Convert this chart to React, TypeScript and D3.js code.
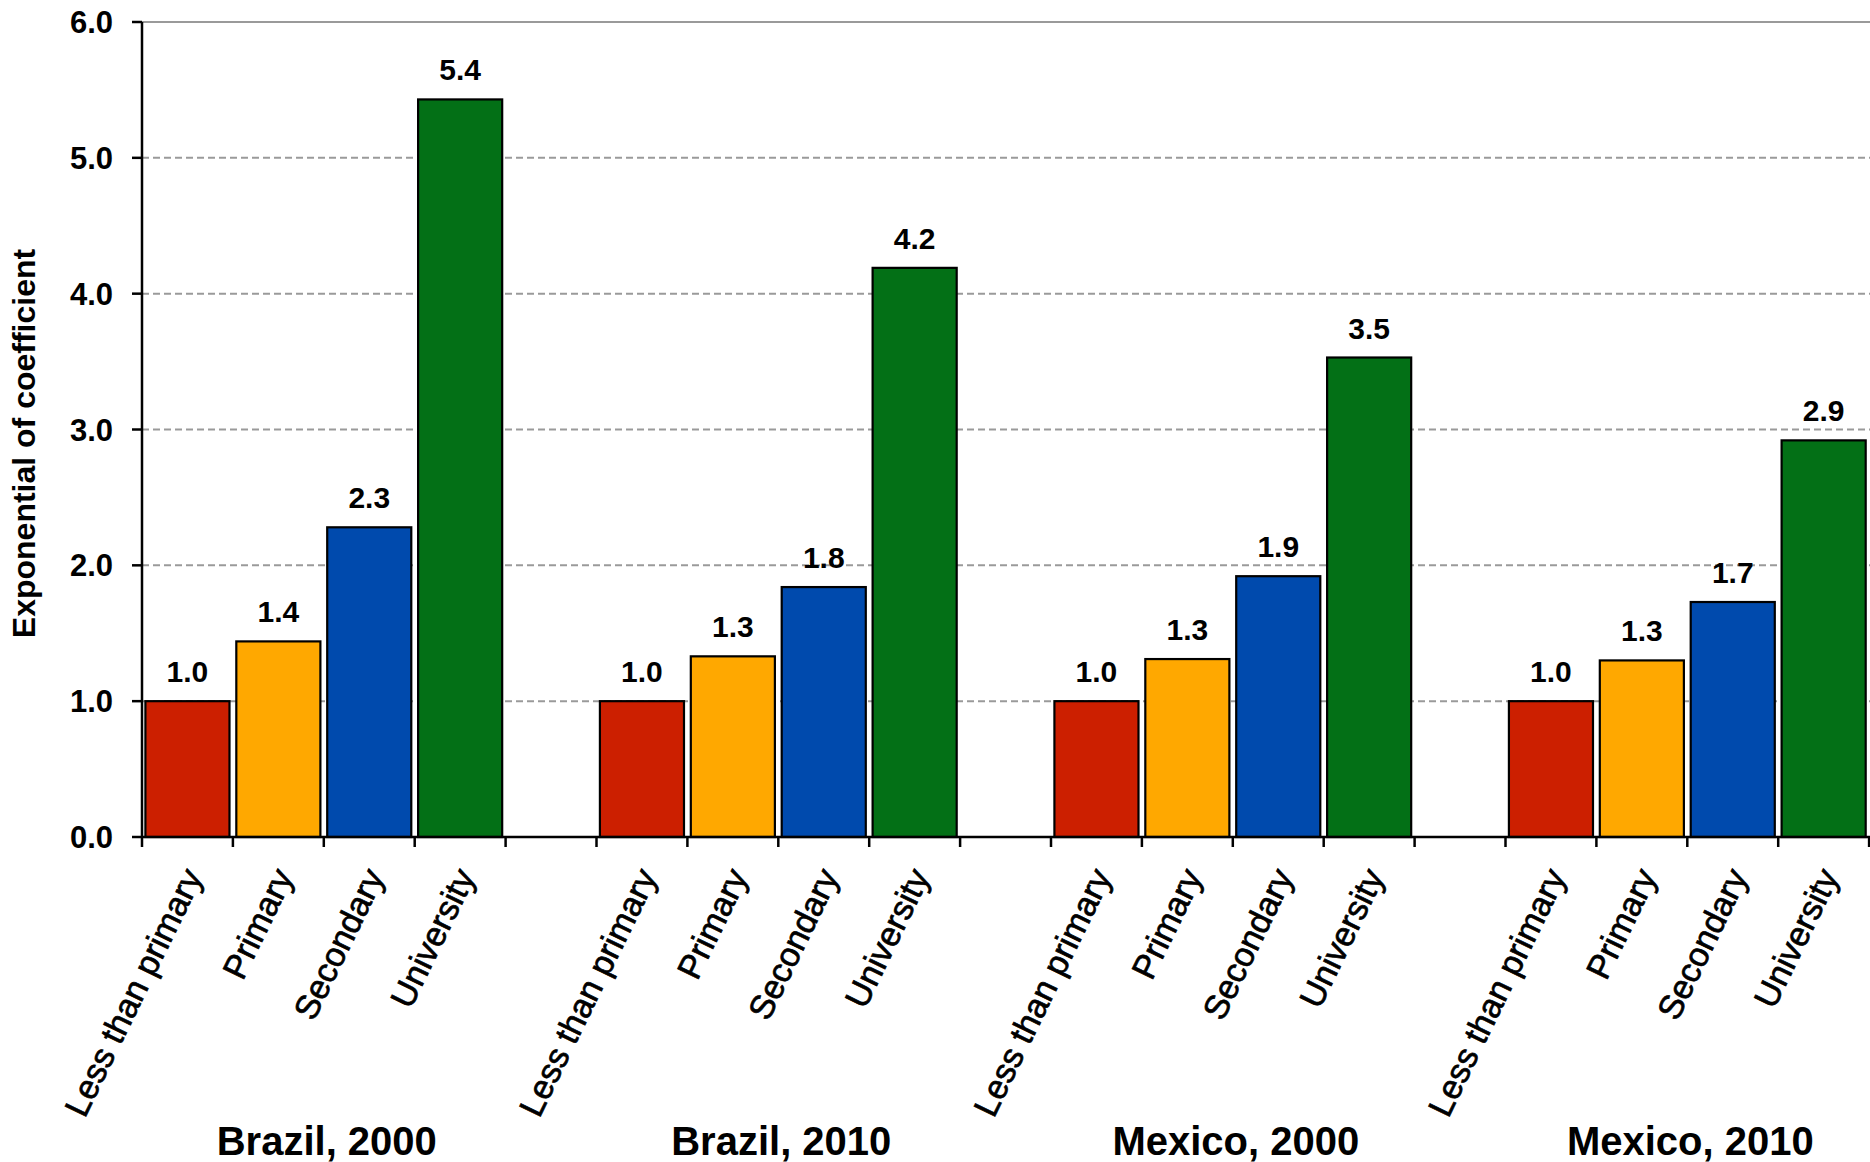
import React from "react";
import * as d3 from "d3";

const groups = ["Brazil, 2000", "Brazil, 2010", "Mexico, 2000", "Mexico, 2010"];
const categories = ["Less than primary", "Primary", "Secondary", "University"];
const brazil2000 = [1.0, 1.44, 2.28, 5.43];
const brazil2010 = [1.0, 1.33, 1.84, 4.19];
const mexico2000 = [1.0, 1.31, 1.92, 3.53];
const mexico2010 = [1.0, 1.30, 1.73, 2.92];
const seriesValues = [brazil2000, brazil2010, mexico2000, mexico2010];
const barColors = ["#CC1F00", "#FFA800", "#004AAD", "#037016"];
const yTicks = [0, 1, 2, 3, 4, 5, 6];
const yTitle = "Exponential of coefficient";

const W = 1870;
const H = 1162;
const FONT = "'Liberation Sans', Arial, Helvetica, sans-serif";

export default function App() {
  const left = 142;
  const step = 90.9;
  const y0 = 837;
  const yTop = 22;

  const slots: string[] = [];
  groups.forEach((g) => {
    categories.forEach((c) => slots.push(`${g}|${c}`));
    slots.push(`${g}|gap`);
  });

  const x = d3
    .scaleBand<string>()
    .domain(slots)
    .range([left, left + step * slots.length])
    .paddingInner(0.075)
    .paddingOuter(0.0375);
  const bw = x.bandwidth();
  const st = x.step();

  const y = d3.scaleLinear().domain([0, 6]).range([y0, yTop]);

  const bars = groups.flatMap((g, gi) =>
    categories.map((c, ci) => ({
      key: `${g}|${c}`,
      value: seriesValues[gi][ci],
      color: barColors[ci],
      cat: c,
    }))
  );

  const boundaries = d3.range(slots.length + 1).map((i) => left + i * st);

  return (
    <svg
      width={W}
      height={H}
      style={{ position: "absolute", left: 0, top: 0, background: "#fff" }}
      fontFamily={FONT}
    >
      <rect x={0} y={0} width={W} height={H} fill="#fff" />
      {yTicks.slice(1).map((t) => (
        <line
          key={`g${t}`}
          x1={left}
          x2={W}
          y1={y(t)}
          y2={y(t)}
          stroke="#9a9a9a"
          strokeWidth={2}
          strokeDasharray={t === 6 ? undefined : "7,4"}
        />
      ))}
      {bars.map((b) => (
        <rect
          key={b.key}
          x={x(b.key)!}
          y={y(b.value)}
          width={bw}
          height={y0 - y(b.value)}
          fill={b.color}
          stroke="#000"
          strokeWidth={2.2}
        />
      ))}
      {bars.map((b) => (
        <text
          key={`v${b.key}`}
          x={x(b.key)! + bw / 2}
          y={y(b.value) - 19}
          textAnchor="middle"
          fontSize={30}
          fontWeight="bold"
          fill="#000"
        >
          {d3.format(".1f")(b.value)}
        </text>
      ))}
      <line x1={left} x2={left} y1={yTop} y2={y0} stroke="#000" strokeWidth={2.5} />
      {yTicks.map((t) => (
        <g key={`yt${t}`}>
          <line x1={left - 10} x2={left} y1={y(t)} y2={y(t)} stroke="#000" strokeWidth={2.5} />
          <text
            x={113}
            y={y(t)}
            dy="0.36em"
            textAnchor="end"
            fontSize={31}
            fontWeight="bold"
          >
            {d3.format(".1f")(t)}
          </text>
        </g>
      ))}
      <line x1={left} x2={W} y1={y0} y2={y0} stroke="#000" strokeWidth={2.5} />
      {boundaries.map((bx, i) => (
        <line key={`xt${i}`} x1={bx} x2={bx} y1={y0} y2={y0 + 10} stroke="#000" strokeWidth={2.5} />
      ))}
      {bars.map((b) => {
        const cx = x(b.key)! + bw / 2 + 5;
        const cy = y0 + 34;
        return (
          <text
            key={`c${b.key}`}
            transform={`translate(${cx},${cy}) rotate(-64)`}
            dy="0.35em"
            textAnchor="end"
            fontSize={34}
            stroke="#000"
            strokeWidth={0.7}
          >
            {b.cat}
          </text>
        );
      })}
      {groups.map((g) => {
        const a = x(`${g}|${categories[0]}`)!;
        const z = x(`${g}|${categories[categories.length - 1]}`)! + bw;
        return (
          <text
            key={`t${g}`}
            x={(a + z) / 2 + 3}
            y={1155}
            textAnchor="middle"
            fontSize={40}
            fontWeight="bold"
          >
            {g}
          </text>
        );
      })}
      <text
        transform={`translate(35,${(yTop + y0) / 2 + 14}) rotate(-90)`}
        textAnchor="middle"
        fontSize={32}
        fontWeight="bold"
      >
        {yTitle}
      </text>
    </svg>
  );
}
